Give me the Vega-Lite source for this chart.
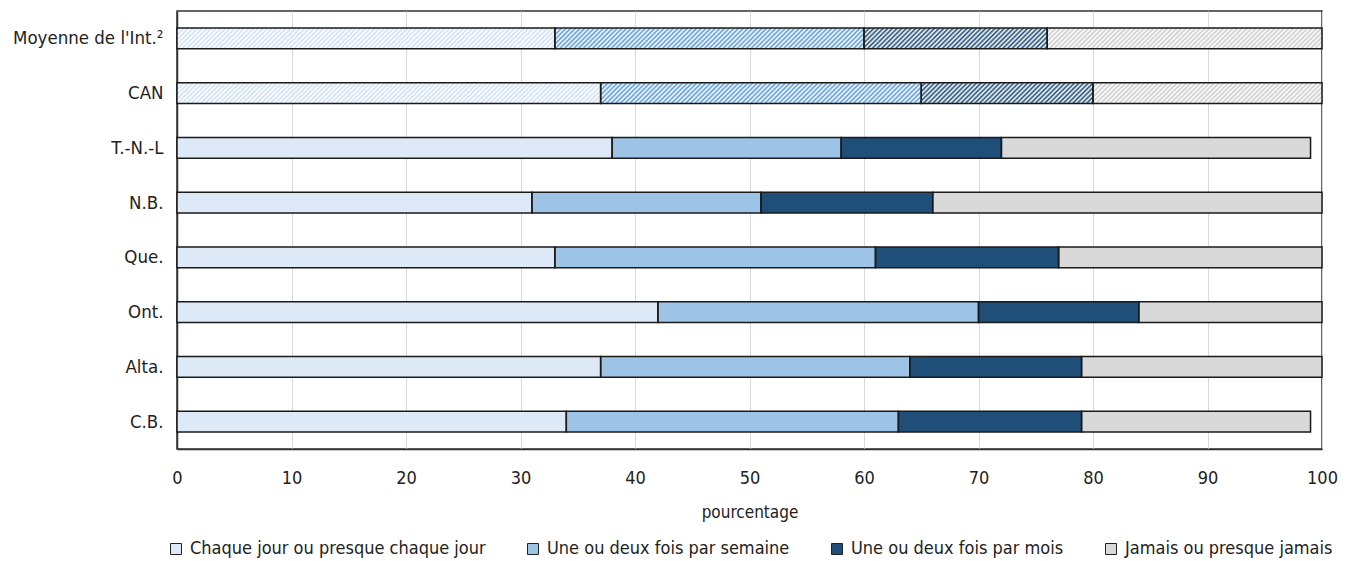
{
"$schema": "https://vega.github.io/schema/vega-lite/v6.json",
"width": 1145, "height": 438,
"autosize": {"type": "none"},
"padding": {"left": 177, "top": 11, "right": 29, "bottom": 112},
"background": "white",
"config": {
  "font": "'Liberation Sans Narrow', 'DejaVu Sans Condensed', 'Roboto Condensed', Roboto, sans-serif",
  "view": {"stroke": "#333", "strokeWidth": 1.5},
  "legend": {"layout": {"anchor": "middle"}}
},
"data": {"values": [
  {"pays": "Moyenne de l'Int.²", "freq": "Chaque jour ou presque chaque jour", "val": 33},
  {"pays": "Moyenne de l'Int.²", "freq": "Une ou deux fois par semaine", "val": 27},
  {"pays": "Moyenne de l'Int.²", "freq": "Une ou deux fois par mois", "val": 16},
  {"pays": "Moyenne de l'Int.²", "freq": "Jamais ou presque jamais", "val": 24},
  {"pays": "CAN", "freq": "Chaque jour ou presque chaque jour", "val": 37},
  {"pays": "CAN", "freq": "Une ou deux fois par semaine", "val": 28},
  {"pays": "CAN", "freq": "Une ou deux fois par mois", "val": 15},
  {"pays": "CAN", "freq": "Jamais ou presque jamais", "val": 20},
  {"pays": "T.-N.-L", "freq": "Chaque jour ou presque chaque jour", "val": 38},
  {"pays": "T.-N.-L", "freq": "Une ou deux fois par semaine", "val": 20},
  {"pays": "T.-N.-L", "freq": "Une ou deux fois par mois", "val": 14},
  {"pays": "T.-N.-L", "freq": "Jamais ou presque jamais", "val": 27},
  {"pays": "N.B.", "freq": "Chaque jour ou presque chaque jour", "val": 31},
  {"pays": "N.B.", "freq": "Une ou deux fois par semaine", "val": 20},
  {"pays": "N.B.", "freq": "Une ou deux fois par mois", "val": 15},
  {"pays": "N.B.", "freq": "Jamais ou presque jamais", "val": 34},
  {"pays": "Que.", "freq": "Chaque jour ou presque chaque jour", "val": 33},
  {"pays": "Que.", "freq": "Une ou deux fois par semaine", "val": 28},
  {"pays": "Que.", "freq": "Une ou deux fois par mois", "val": 16},
  {"pays": "Que.", "freq": "Jamais ou presque jamais", "val": 23},
  {"pays": "Ont.", "freq": "Chaque jour ou presque chaque jour", "val": 42},
  {"pays": "Ont.", "freq": "Une ou deux fois par semaine", "val": 28},
  {"pays": "Ont.", "freq": "Une ou deux fois par mois", "val": 14},
  {"pays": "Ont.", "freq": "Jamais ou presque jamais", "val": 16},
  {"pays": "Alta.", "freq": "Chaque jour ou presque chaque jour", "val": 37},
  {"pays": "Alta.", "freq": "Une ou deux fois par semaine", "val": 27},
  {"pays": "Alta.", "freq": "Une ou deux fois par mois", "val": 15},
  {"pays": "Alta.", "freq": "Jamais ou presque jamais", "val": 21},
  {"pays": "C.B.", "freq": "Chaque jour ou presque chaque jour", "val": 34},
  {"pays": "C.B.", "freq": "Une ou deux fois par semaine", "val": 29},
  {"pays": "C.B.", "freq": "Une ou deux fois par mois", "val": 16},
  {"pays": "C.B.", "freq": "Jamais ou presque jamais", "val": 20}
]},
"transform": [
  {"calculate": "indexof(['Chaque jour ou presque chaque jour','Une ou deux fois par semaine','Une ou deux fois par mois','Jamais ou presque jamais'], datum.freq)", "as": "ord"}
],
"encoding": {
  "y": {"field": "pays", "type": "nominal",
        "sort": ["Moyenne de l'Int.²", "CAN", "T.-N.-L", "N.B.", "Que.", "Ont.", "Alta.", "C.B."],
        "scale": {"paddingInner": 0.62, "paddingOuter": 0.31},
        "axis": {"title": null, "ticks": false, "labelPadding": 14, "labelFontSize": 18.5, "labelColor": "#222", "domainColor": "#333", "domainWidth": 1.5, "labelLimit": 300}}
},
"layer": [
  {
    "transform": [{"filter": {"not": {"field": "pays", "oneOf": ["Moyenne de l'Int.²", "CAN"]}}}],
    "mark": {"type": "bar"},
    "encoding": {
      "x": {"field": "val", "type": "quantitative", "stack": "zero",
            "scale": {"domain": [0, 100], "nice": false},
            "axis": {"title": "pourcentage", "values": [0,10,20,30,40,50,60,70,80,90,100], "grid": true, "gridColor": "#d9d9d9", "gridWidth": 1,
                     "ticks": false, "labelPadding": 20, "labelFontSize": 18, "labelColor": "#222", "labelFlush": false,
                     "titleFontSize": 17, "titleFontWeight": "normal", "titleColor": "#222", "titlePadding": 17,
                     "domainColor": "#333", "domainWidth": 1.5}},
      "color": {"field": "freq", "type": "nominal",
                "scale": {"domain": ["Chaque jour ou presque chaque jour", "Une ou deux fois par semaine", "Une ou deux fois par mois", "Jamais ou presque jamais"],
                          "range": ["#dde9f6", "#9dc3e6", "#1f4e79", "#d9d9d9"]},
                "legend": {"title": null, "orient": "bottom", "direction": "horizontal", "symbolType": "square", "symbolSize": 121,
                           "symbolStrokeColor": "#222", "symbolStrokeWidth": 1, "symbolOpacity": 1, "labelFontSize": 18, "labelColor": "#222",
                           "labelOffset": 5, "columnPadding": 38, "offset": 20, "labelLimit": 400}},
      "order": {"field": "ord", "type": "quantitative"}
    }
  },
  {
    "transform": [{"filter": {"field": "pays", "oneOf": ["Moyenne de l'Int.²", "CAN"]}}],
    "mark": {"type": "bar"},
    "encoding": {
      "x": {"field": "val", "type": "quantitative", "stack": "zero"},
      "fill": {"field": "freq", "type": "nominal",
               "scale": {"domain": ["Chaque jour ou presque chaque jour", "Une ou deux fois par semaine", "Une ou deux fois par mois", "Jamais ou presque jamais"],
                         "range": ["#cfe0f2", "#5b9bd5", "#1f4e79", "#cccccc"]},
               "legend": null},
      "order": {"field": "ord", "type": "quantitative"}
    }
  },
  {
    "transform": [
      {"filter": {"field": "pays", "oneOf": ["Moyenne de l'Int.²", "CAN"]}},
      {"aggregate": [{"op": "sum", "field": "val", "as": "tot"}], "groupby": ["pays"]}
    ],
    "mark": {"type": "bar", "fill": {"gradient": "linear", "x1": 0, "y1": 0, "x2": 1.01783, "y2": 0.01849, "stops": [
{"offset":0,"color":"#fff"},{"offset":0.002,"color":"#fff0"},{"offset":0.004,"color":"#fff"},{"offset":0.006,"color":"#fff0"},{"offset":0.008,"color":"#fff"},
{"offset":0.010,"color":"#fff0"},{"offset":0.012,"color":"#fff"},{"offset":0.014,"color":"#fff0"},{"offset":0.016,"color":"#fff"},{"offset":0.018,"color":"#fff0"},
{"offset":0.020,"color":"#fff"},{"offset":0.022,"color":"#fff0"},{"offset":0.024,"color":"#fff"},{"offset":0.026,"color":"#fff0"},{"offset":0.028,"color":"#fff"},
{"offset":0.030,"color":"#fff0"},{"offset":0.032,"color":"#fff"},{"offset":0.034,"color":"#fff0"},{"offset":0.036,"color":"#fff"},{"offset":0.038,"color":"#fff0"},
{"offset":0.040,"color":"#fff"},{"offset":0.042,"color":"#fff0"},{"offset":0.044,"color":"#fff"},{"offset":0.046,"color":"#fff0"},{"offset":0.048,"color":"#fff"},
{"offset":0.050,"color":"#fff0"},{"offset":0.052,"color":"#fff"},{"offset":0.054,"color":"#fff0"},{"offset":0.056,"color":"#fff"},{"offset":0.058,"color":"#fff0"},
{"offset":0.060,"color":"#fff"},{"offset":0.062,"color":"#fff0"},{"offset":0.064,"color":"#fff"},{"offset":0.066,"color":"#fff0"},{"offset":0.068,"color":"#fff"},
{"offset":0.070,"color":"#fff0"},{"offset":0.072,"color":"#fff"},{"offset":0.074,"color":"#fff0"},{"offset":0.076,"color":"#fff"},{"offset":0.078,"color":"#fff0"},
{"offset":0.080,"color":"#fff"},{"offset":0.082,"color":"#fff0"},{"offset":0.084,"color":"#fff"},{"offset":0.086,"color":"#fff0"},{"offset":0.088,"color":"#fff"},
{"offset":0.090,"color":"#fff0"},{"offset":0.092,"color":"#fff"},{"offset":0.094,"color":"#fff0"},{"offset":0.096,"color":"#fff"},{"offset":0.098,"color":"#fff0"},
{"offset":0.100,"color":"#fff"},{"offset":0.102,"color":"#fff0"},{"offset":0.104,"color":"#fff"},{"offset":0.106,"color":"#fff0"},{"offset":0.108,"color":"#fff"},
{"offset":0.110,"color":"#fff0"},{"offset":0.112,"color":"#fff"},{"offset":0.114,"color":"#fff0"},{"offset":0.116,"color":"#fff"},{"offset":0.118,"color":"#fff0"},
{"offset":0.120,"color":"#fff"},{"offset":0.122,"color":"#fff0"},{"offset":0.124,"color":"#fff"},{"offset":0.126,"color":"#fff0"},{"offset":0.128,"color":"#fff"},
{"offset":0.130,"color":"#fff0"},{"offset":0.132,"color":"#fff"},{"offset":0.134,"color":"#fff0"},{"offset":0.136,"color":"#fff"},{"offset":0.138,"color":"#fff0"},
{"offset":0.140,"color":"#fff"},{"offset":0.142,"color":"#fff0"},{"offset":0.144,"color":"#fff"},{"offset":0.146,"color":"#fff0"},{"offset":0.148,"color":"#fff"},
{"offset":0.150,"color":"#fff0"},{"offset":0.152,"color":"#fff"},{"offset":0.154,"color":"#fff0"},{"offset":0.156,"color":"#fff"},{"offset":0.158,"color":"#fff0"},
{"offset":0.160,"color":"#fff"},{"offset":0.162,"color":"#fff0"},{"offset":0.164,"color":"#fff"},{"offset":0.166,"color":"#fff0"},{"offset":0.168,"color":"#fff"},
{"offset":0.170,"color":"#fff0"},{"offset":0.172,"color":"#fff"},{"offset":0.174,"color":"#fff0"},{"offset":0.176,"color":"#fff"},{"offset":0.178,"color":"#fff0"},
{"offset":0.180,"color":"#fff"},{"offset":0.182,"color":"#fff0"},{"offset":0.184,"color":"#fff"},{"offset":0.186,"color":"#fff0"},{"offset":0.188,"color":"#fff"},
{"offset":0.190,"color":"#fff0"},{"offset":0.192,"color":"#fff"},{"offset":0.194,"color":"#fff0"},{"offset":0.196,"color":"#fff"},{"offset":0.198,"color":"#fff0"},
{"offset":0.200,"color":"#fff"},{"offset":0.202,"color":"#fff0"},{"offset":0.204,"color":"#fff"},{"offset":0.206,"color":"#fff0"},{"offset":0.208,"color":"#fff"},
{"offset":0.210,"color":"#fff0"},{"offset":0.212,"color":"#fff"},{"offset":0.214,"color":"#fff0"},{"offset":0.216,"color":"#fff"},{"offset":0.218,"color":"#fff0"},
{"offset":0.220,"color":"#fff"},{"offset":0.222,"color":"#fff0"},{"offset":0.224,"color":"#fff"},{"offset":0.226,"color":"#fff0"},{"offset":0.228,"color":"#fff"},
{"offset":0.230,"color":"#fff0"},{"offset":0.232,"color":"#fff"},{"offset":0.234,"color":"#fff0"},{"offset":0.236,"color":"#fff"},{"offset":0.238,"color":"#fff0"},
{"offset":0.240,"color":"#fff"},{"offset":0.242,"color":"#fff0"},{"offset":0.244,"color":"#fff"},{"offset":0.246,"color":"#fff0"},{"offset":0.248,"color":"#fff"},
{"offset":0.250,"color":"#fff0"},{"offset":0.252,"color":"#fff"},{"offset":0.254,"color":"#fff0"},{"offset":0.256,"color":"#fff"},{"offset":0.258,"color":"#fff0"},
{"offset":0.260,"color":"#fff"},{"offset":0.262,"color":"#fff0"},{"offset":0.264,"color":"#fff"},{"offset":0.266,"color":"#fff0"},{"offset":0.268,"color":"#fff"},
{"offset":0.270,"color":"#fff0"},{"offset":0.272,"color":"#fff"},{"offset":0.274,"color":"#fff0"},{"offset":0.276,"color":"#fff"},{"offset":0.278,"color":"#fff0"},
{"offset":0.280,"color":"#fff"},{"offset":0.282,"color":"#fff0"},{"offset":0.284,"color":"#fff"},{"offset":0.286,"color":"#fff0"},{"offset":0.288,"color":"#fff"},
{"offset":0.290,"color":"#fff0"},{"offset":0.292,"color":"#fff"},{"offset":0.294,"color":"#fff0"},{"offset":0.296,"color":"#fff"},{"offset":0.298,"color":"#fff0"},
{"offset":0.300,"color":"#fff"},{"offset":0.302,"color":"#fff0"},{"offset":0.304,"color":"#fff"},{"offset":0.306,"color":"#fff0"},{"offset":0.308,"color":"#fff"},
{"offset":0.310,"color":"#fff0"},{"offset":0.312,"color":"#fff"},{"offset":0.314,"color":"#fff0"},{"offset":0.316,"color":"#fff"},{"offset":0.318,"color":"#fff0"},
{"offset":0.320,"color":"#fff"},{"offset":0.322,"color":"#fff0"},{"offset":0.324,"color":"#fff"},{"offset":0.326,"color":"#fff0"},{"offset":0.328,"color":"#fff"},
{"offset":0.330,"color":"#fff0"},{"offset":0.332,"color":"#fff"},{"offset":0.334,"color":"#fff0"},{"offset":0.336,"color":"#fff"},{"offset":0.338,"color":"#fff0"},
{"offset":0.340,"color":"#fff"},{"offset":0.342,"color":"#fff0"},{"offset":0.344,"color":"#fff"},{"offset":0.346,"color":"#fff0"},{"offset":0.348,"color":"#fff"},
{"offset":0.350,"color":"#fff0"},{"offset":0.352,"color":"#fff"},{"offset":0.354,"color":"#fff0"},{"offset":0.356,"color":"#fff"},{"offset":0.358,"color":"#fff0"},
{"offset":0.360,"color":"#fff"},{"offset":0.362,"color":"#fff0"},{"offset":0.364,"color":"#fff"},{"offset":0.366,"color":"#fff0"},{"offset":0.368,"color":"#fff"},
{"offset":0.370,"color":"#fff0"},{"offset":0.372,"color":"#fff"},{"offset":0.374,"color":"#fff0"},{"offset":0.376,"color":"#fff"},{"offset":0.378,"color":"#fff0"},
{"offset":0.380,"color":"#fff"},{"offset":0.382,"color":"#fff0"},{"offset":0.384,"color":"#fff"},{"offset":0.386,"color":"#fff0"},{"offset":0.388,"color":"#fff"},
{"offset":0.390,"color":"#fff0"},{"offset":0.392,"color":"#fff"},{"offset":0.394,"color":"#fff0"},{"offset":0.396,"color":"#fff"},{"offset":0.398,"color":"#fff0"},
{"offset":0.400,"color":"#fff"},{"offset":0.402,"color":"#fff0"},{"offset":0.404,"color":"#fff"},{"offset":0.406,"color":"#fff0"},{"offset":0.408,"color":"#fff"},
{"offset":0.410,"color":"#fff0"},{"offset":0.412,"color":"#fff"},{"offset":0.414,"color":"#fff0"},{"offset":0.416,"color":"#fff"},{"offset":0.418,"color":"#fff0"},
{"offset":0.420,"color":"#fff"},{"offset":0.422,"color":"#fff0"},{"offset":0.424,"color":"#fff"},{"offset":0.426,"color":"#fff0"},{"offset":0.428,"color":"#fff"},
{"offset":0.430,"color":"#fff0"},{"offset":0.432,"color":"#fff"},{"offset":0.434,"color":"#fff0"},{"offset":0.436,"color":"#fff"},{"offset":0.438,"color":"#fff0"},
{"offset":0.440,"color":"#fff"},{"offset":0.442,"color":"#fff0"},{"offset":0.444,"color":"#fff"},{"offset":0.446,"color":"#fff0"},{"offset":0.448,"color":"#fff"},
{"offset":0.450,"color":"#fff0"},{"offset":0.452,"color":"#fff"},{"offset":0.454,"color":"#fff0"},{"offset":0.456,"color":"#fff"},{"offset":0.458,"color":"#fff0"},
{"offset":0.460,"color":"#fff"},{"offset":0.462,"color":"#fff0"},{"offset":0.464,"color":"#fff"},{"offset":0.466,"color":"#fff0"},{"offset":0.468,"color":"#fff"},
{"offset":0.470,"color":"#fff0"},{"offset":0.472,"color":"#fff"},{"offset":0.474,"color":"#fff0"},{"offset":0.476,"color":"#fff"},{"offset":0.478,"color":"#fff0"},
{"offset":0.480,"color":"#fff"},{"offset":0.482,"color":"#fff0"},{"offset":0.484,"color":"#fff"},{"offset":0.486,"color":"#fff0"},{"offset":0.488,"color":"#fff"},
{"offset":0.490,"color":"#fff0"},{"offset":0.492,"color":"#fff"},{"offset":0.494,"color":"#fff0"},{"offset":0.496,"color":"#fff"},{"offset":0.498,"color":"#fff0"},
{"offset":0.500,"color":"#fff"},{"offset":0.502,"color":"#fff0"},{"offset":0.504,"color":"#fff"},{"offset":0.506,"color":"#fff0"},{"offset":0.508,"color":"#fff"},
{"offset":0.510,"color":"#fff0"},{"offset":0.512,"color":"#fff"},{"offset":0.514,"color":"#fff0"},{"offset":0.516,"color":"#fff"},{"offset":0.518,"color":"#fff0"},
{"offset":0.520,"color":"#fff"},{"offset":0.522,"color":"#fff0"},{"offset":0.524,"color":"#fff"},{"offset":0.526,"color":"#fff0"},{"offset":0.528,"color":"#fff"},
{"offset":0.530,"color":"#fff0"},{"offset":0.532,"color":"#fff"},{"offset":0.534,"color":"#fff0"},{"offset":0.536,"color":"#fff"},{"offset":0.538,"color":"#fff0"},
{"offset":0.540,"color":"#fff"},{"offset":0.542,"color":"#fff0"},{"offset":0.544,"color":"#fff"},{"offset":0.546,"color":"#fff0"},{"offset":0.548,"color":"#fff"},
{"offset":0.550,"color":"#fff0"},{"offset":0.552,"color":"#fff"},{"offset":0.554,"color":"#fff0"},{"offset":0.556,"color":"#fff"},{"offset":0.558,"color":"#fff0"},
{"offset":0.560,"color":"#fff"},{"offset":0.562,"color":"#fff0"},{"offset":0.564,"color":"#fff"},{"offset":0.566,"color":"#fff0"},{"offset":0.568,"color":"#fff"},
{"offset":0.570,"color":"#fff0"},{"offset":0.572,"color":"#fff"},{"offset":0.574,"color":"#fff0"},{"offset":0.576,"color":"#fff"},{"offset":0.578,"color":"#fff0"},
{"offset":0.580,"color":"#fff"},{"offset":0.582,"color":"#fff0"},{"offset":0.584,"color":"#fff"},{"offset":0.586,"color":"#fff0"},{"offset":0.588,"color":"#fff"},
{"offset":0.590,"color":"#fff0"},{"offset":0.592,"color":"#fff"},{"offset":0.594,"color":"#fff0"},{"offset":0.596,"color":"#fff"},{"offset":0.598,"color":"#fff0"},
{"offset":0.600,"color":"#fff"},{"offset":0.602,"color":"#fff0"},{"offset":0.604,"color":"#fff"},{"offset":0.606,"color":"#fff0"},{"offset":0.608,"color":"#fff"},
{"offset":0.610,"color":"#fff0"},{"offset":0.612,"color":"#fff"},{"offset":0.614,"color":"#fff0"},{"offset":0.616,"color":"#fff"},{"offset":0.618,"color":"#fff0"},
{"offset":0.620,"color":"#fff"},{"offset":0.622,"color":"#fff0"},{"offset":0.624,"color":"#fff"},{"offset":0.626,"color":"#fff0"},{"offset":0.628,"color":"#fff"},
{"offset":0.630,"color":"#fff0"},{"offset":0.632,"color":"#fff"},{"offset":0.634,"color":"#fff0"},{"offset":0.636,"color":"#fff"},{"offset":0.638,"color":"#fff0"},
{"offset":0.640,"color":"#fff"},{"offset":0.642,"color":"#fff0"},{"offset":0.644,"color":"#fff"},{"offset":0.646,"color":"#fff0"},{"offset":0.648,"color":"#fff"},
{"offset":0.650,"color":"#fff0"},{"offset":0.652,"color":"#fff"},{"offset":0.654,"color":"#fff0"},{"offset":0.656,"color":"#fff"},{"offset":0.658,"color":"#fff0"},
{"offset":0.660,"color":"#fff"},{"offset":0.662,"color":"#fff0"},{"offset":0.664,"color":"#fff"},{"offset":0.666,"color":"#fff0"},{"offset":0.668,"color":"#fff"},
{"offset":0.670,"color":"#fff0"},{"offset":0.672,"color":"#fff"},{"offset":0.674,"color":"#fff0"},{"offset":0.676,"color":"#fff"},{"offset":0.678,"color":"#fff0"},
{"offset":0.680,"color":"#fff"},{"offset":0.682,"color":"#fff0"},{"offset":0.684,"color":"#fff"},{"offset":0.686,"color":"#fff0"},{"offset":0.688,"color":"#fff"},
{"offset":0.690,"color":"#fff0"},{"offset":0.692,"color":"#fff"},{"offset":0.694,"color":"#fff0"},{"offset":0.696,"color":"#fff"},{"offset":0.698,"color":"#fff0"},
{"offset":0.700,"color":"#fff"},{"offset":0.702,"color":"#fff0"},{"offset":0.704,"color":"#fff"},{"offset":0.706,"color":"#fff0"},{"offset":0.708,"color":"#fff"},
{"offset":0.710,"color":"#fff0"},{"offset":0.712,"color":"#fff"},{"offset":0.714,"color":"#fff0"},{"offset":0.716,"color":"#fff"},{"offset":0.718,"color":"#fff0"},
{"offset":0.720,"color":"#fff"},{"offset":0.722,"color":"#fff0"},{"offset":0.724,"color":"#fff"},{"offset":0.726,"color":"#fff0"},{"offset":0.728,"color":"#fff"},
{"offset":0.730,"color":"#fff0"},{"offset":0.732,"color":"#fff"},{"offset":0.734,"color":"#fff0"},{"offset":0.736,"color":"#fff"},{"offset":0.738,"color":"#fff0"},
{"offset":0.740,"color":"#fff"},{"offset":0.742,"color":"#fff0"},{"offset":0.744,"color":"#fff"},{"offset":0.746,"color":"#fff0"},{"offset":0.748,"color":"#fff"},
{"offset":0.750,"color":"#fff0"},{"offset":0.752,"color":"#fff"},{"offset":0.754,"color":"#fff0"},{"offset":0.756,"color":"#fff"},{"offset":0.758,"color":"#fff0"},
{"offset":0.760,"color":"#fff"},{"offset":0.762,"color":"#fff0"},{"offset":0.764,"color":"#fff"},{"offset":0.766,"color":"#fff0"},{"offset":0.768,"color":"#fff"},
{"offset":0.770,"color":"#fff0"},{"offset":0.772,"color":"#fff"},{"offset":0.774,"color":"#fff0"},{"offset":0.776,"color":"#fff"},{"offset":0.778,"color":"#fff0"},
{"offset":0.780,"color":"#fff"},{"offset":0.782,"color":"#fff0"},{"offset":0.784,"color":"#fff"},{"offset":0.786,"color":"#fff0"},{"offset":0.788,"color":"#fff"},
{"offset":0.790,"color":"#fff0"},{"offset":0.792,"color":"#fff"},{"offset":0.794,"color":"#fff0"},{"offset":0.796,"color":"#fff"},{"offset":0.798,"color":"#fff0"},
{"offset":0.800,"color":"#fff"},{"offset":0.802,"color":"#fff0"},{"offset":0.804,"color":"#fff"},{"offset":0.806,"color":"#fff0"},{"offset":0.808,"color":"#fff"},
{"offset":0.810,"color":"#fff0"},{"offset":0.812,"color":"#fff"},{"offset":0.814,"color":"#fff0"},{"offset":0.816,"color":"#fff"},{"offset":0.818,"color":"#fff0"},
{"offset":0.820,"color":"#fff"},{"offset":0.822,"color":"#fff0"},{"offset":0.824,"color":"#fff"},{"offset":0.826,"color":"#fff0"},{"offset":0.828,"color":"#fff"},
{"offset":0.830,"color":"#fff0"},{"offset":0.832,"color":"#fff"},{"offset":0.834,"color":"#fff0"},{"offset":0.836,"color":"#fff"},{"offset":0.838,"color":"#fff0"},
{"offset":0.840,"color":"#fff"},{"offset":0.842,"color":"#fff0"},{"offset":0.844,"color":"#fff"},{"offset":0.846,"color":"#fff0"},{"offset":0.848,"color":"#fff"},
{"offset":0.850,"color":"#fff0"},{"offset":0.852,"color":"#fff"},{"offset":0.854,"color":"#fff0"},{"offset":0.856,"color":"#fff"},{"offset":0.858,"color":"#fff0"},
{"offset":0.860,"color":"#fff"},{"offset":0.862,"color":"#fff0"},{"offset":0.864,"color":"#fff"},{"offset":0.866,"color":"#fff0"},{"offset":0.868,"color":"#fff"},
{"offset":0.870,"color":"#fff0"},{"offset":0.872,"color":"#fff"},{"offset":0.874,"color":"#fff0"},{"offset":0.876,"color":"#fff"},{"offset":0.878,"color":"#fff0"},
{"offset":0.880,"color":"#fff"},{"offset":0.882,"color":"#fff0"},{"offset":0.884,"color":"#fff"},{"offset":0.886,"color":"#fff0"},{"offset":0.888,"color":"#fff"},
{"offset":0.890,"color":"#fff0"},{"offset":0.892,"color":"#fff"},{"offset":0.894,"color":"#fff0"},{"offset":0.896,"color":"#fff"},{"offset":0.898,"color":"#fff0"},
{"offset":0.900,"color":"#fff"},{"offset":0.902,"color":"#fff0"},{"offset":0.904,"color":"#fff"},{"offset":0.906,"color":"#fff0"},{"offset":0.908,"color":"#fff"},
{"offset":0.910,"color":"#fff0"},{"offset":0.912,"color":"#fff"},{"offset":0.914,"color":"#fff0"},{"offset":0.916,"color":"#fff"},{"offset":0.918,"color":"#fff0"},
{"offset":0.920,"color":"#fff"},{"offset":0.922,"color":"#fff0"},{"offset":0.924,"color":"#fff"},{"offset":0.926,"color":"#fff0"},{"offset":0.928,"color":"#fff"},
{"offset":0.930,"color":"#fff0"},{"offset":0.932,"color":"#fff"},{"offset":0.934,"color":"#fff0"},{"offset":0.936,"color":"#fff"},{"offset":0.938,"color":"#fff0"},
{"offset":0.940,"color":"#fff"},{"offset":0.942,"color":"#fff0"},{"offset":0.944,"color":"#fff"},{"offset":0.946,"color":"#fff0"},{"offset":0.948,"color":"#fff"},
{"offset":0.950,"color":"#fff0"},{"offset":0.952,"color":"#fff"},{"offset":0.954,"color":"#fff0"},{"offset":0.956,"color":"#fff"},{"offset":0.958,"color":"#fff0"},
{"offset":0.960,"color":"#fff"},{"offset":0.962,"color":"#fff0"},{"offset":0.964,"color":"#fff"},{"offset":0.966,"color":"#fff0"},{"offset":0.968,"color":"#fff"},
{"offset":0.970,"color":"#fff0"},{"offset":0.972,"color":"#fff"},{"offset":0.974,"color":"#fff0"},{"offset":0.976,"color":"#fff"},{"offset":0.978,"color":"#fff0"},
{"offset":0.980,"color":"#fff"},{"offset":0.982,"color":"#fff0"},{"offset":0.984,"color":"#fff"},{"offset":0.986,"color":"#fff0"},{"offset":0.988,"color":"#fff"},
{"offset":0.990,"color":"#fff0"},{"offset":0.992,"color":"#fff"},{"offset":0.994,"color":"#fff0"},{"offset":0.996,"color":"#fff"},{"offset":0.998,"color":"#fff0"},
{"offset":1,"color":"#fff"}
]}},
    "encoding": {
      "x": {"field": "tot", "type": "quantitative", "stack": null}
    }
  },
  {
    "mark": {"type": "bar", "fill": "#fff", "fillOpacity": 0, "stroke": "#1a1a1a", "strokeWidth": 1.5},
    "encoding": {
      "x": {"field": "val", "type": "quantitative", "stack": "zero"},
      "detail": {"field": "freq"},
      "order": {"field": "ord", "type": "quantitative"}
    }
  }
]
}
